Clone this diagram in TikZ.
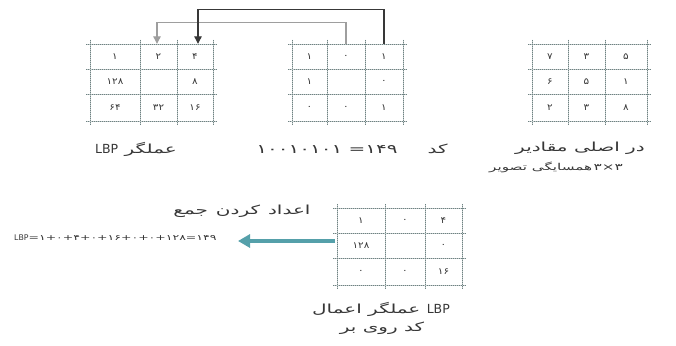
\documentclass[tikz,border=0pt]{standalone}
\usepackage{fontspec}
\setmainfont{DejaVu Sans}
\newfontfamily\fa[Script=Arabic,FakeStretch=1.6]{DejaVu Sans}
\newfontfamily\fac[Script=Arabic,FakeStretch=1.15]{DejaVu Sans}
\usetikzlibrary{arrows.meta}
\definecolor{gridc}{RGB}{110,130,130}
\definecolor{txt}{RGB}{55,55,55}
\definecolor{tealc}{RGB}{85,160,170}
% each word in its own box, boxes set left to right as the picture shows them
\newcommand\w[1]{\hbox{#1}}
\newcommand\lbp{\hbox{\normalfont LBP}}
\tikzset{
 gline/.style={draw=gridc!45, line width=0.5pt},
 gdot/.style={draw=gridc, line width=0.7pt, dash pattern=on 0.8pt off 1.2pt},
 cell/.style={inner sep=0pt, minimum width=30pt, minimum height=25pt, text=txt, font=\fac\fontsize{9}{10}\selectfont},
 lab/.style={inner sep=0pt, text=txt, font=\fa\fontsize{12.5}{14}\selectfont},
 formula/.style={inner sep=0pt, text=txt, font=\fa\fontsize{7.8}{9}\selectfont},
 darkarr/.style={draw=black!78, line width=1.1pt, -{Triangle[width=7.5pt,length=7.5pt]}},
 grayarr/.style={draw=black!38, line width=1.1pt, -{Triangle[width=7.5pt,length=7.5pt]}},
 bigarr/.style={draw=tealc, line width=3.5pt, -{Triangle[width=13pt,length=12pt]}},
}
\newcommand\mygrid[8]{%
 \foreach \yy in {#5,#6,#7,#8}{\draw[gline] (#1-4,\yy) -- (#4+4,\yy); \draw[gdot] (#1-4,\yy) -- (#4+4,\yy);}
 \foreach \xx in {#1,#2,#3,#4}{\draw[gline] (\xx,#5-4) -- (\xx,#8+4); \draw[gdot] (\xx,#5-4) -- (\xx,#8+4);}
}
\begin{document}
\begin{tikzpicture}[x=1pt,y=-1pt]
\fill[white] (0,0) rectangle (676,345);
\useasboundingbox (0,0) rectangle (676,345);

% grids
\mygrid{90}{140}{177}{213}{44}{69}{94}{121}
\mygrid{292}{327}{365}{403}{44}{69}{94}{121}
\mygrid{532}{568}{605}{647}{44}{69}{94}{121}
\mygrid{337}{385}{425}{462}{208}{233}{258}{285}

% left matrix: weights
\node[cell] (L11) at (115,56.5) {۱};
\node[cell] (L12) at (158.5,56.5) {۲};
\node[cell] (L13) at (195,56.5) {۴};
\node[cell] (L21) at (115,81.5) {۱۲۸};
\node[cell] (L23) at (195,81.5) {۸};
\node[cell] (L31) at (115,107.5) {۶۴};
\node[cell] (L32) at (158.5,107.5) {۳۲};
\node[cell] (L33) at (195,107.5) {۱۶};

% middle matrix: thresholded
\node[cell] (M11) at (309.5,56.5) {۱};
\node[cell] (M12) at (346,56.5) {۰};
\node[cell] (M13) at (384,56.5) {۱};
\node[cell] (M21) at (309.5,81.5) {۱};
\node[cell] (M23) at (384,81.5) {۰};
\node[cell] (M31) at (309.5,107.5) {۰};
\node[cell] (M32) at (346,107.5) {۰};
\node[cell] (M33) at (384,107.5) {۱};

% right matrix: original values
\node[cell] (R11) at (550,56.5) {۷};
\node[cell] (R12) at (586.5,56.5) {۳};
\node[cell] (R13) at (626,56.5) {۵};
\node[cell] (R21) at (550,81.5) {۶};
\node[cell] (R22) at (586.5,81.5) {۵};
\node[cell] (R23) at (626,81.5) {۱};
\node[cell] (R31) at (550,107.5) {۲};
\node[cell] (R32) at (586.5,107.5) {۳};
\node[cell] (R33) at (626,107.5) {۸};

% bottom matrix: applied
\node[cell] (B11) at (361,220.5) {۱};
\node[cell] (B12) at (405,220.5) {۰};
\node[cell] (B13) at (443.5,220.5) {۴};
\node[cell] (B21) at (361,245.5) {۱۲۸};
\node[cell] (B23) at (443.5,245.5) {۰};
\node[cell] (B31) at (361,271.5) {۰};
\node[cell] (B32) at (405,271.5) {۰};
\node[cell] (B33) at (443.5,271.5) {۱۶};

% top connectors
\draw[grayarr] (M12.north) -- ++(0,-21) -| ([xshift=-1.5pt]L12.north);
\draw[darkarr] (M13.north) -- ++(0,-34) -| ([xshift=3pt]L13.north);

% labels (word boxes in the left-to-right order of the picture)
\node[lab] (labL) at (136,149) {\lbp\ \w{عملگر}};
\node[lab] (labM) at (352,149) {\w{۱۰۰۱۰۱۰۱}\ \w{=}\w{۱۴۹}\hspace{30pt}\w{کد}};
\node[lab] (labR1) at (580,148) {\w{مقادیر}\ \w{اصلی}\ \w{در}};
\node[lab, font=\fa\fontsize{9.5}{11}\selectfont] (labR2) at (556,167) {\w{تصویر}\ \w{همسایگی}\,\w{۳×۳}};

% bottom part
\coordinate (bt) at (335,241);
\coordinate (bh) at (238,241);
\draw[bigarr] (bt) -- (bh);
\node[lab] (labSum) at (242,211) {\w{جمع}\hspace{8pt}\w{کردن}\hspace{8pt}\w{اعداد}};
\node[formula, anchor=west] (sum) at (14,238) {\lbp\w{=}\w{۱}\w{+}\w{۰}\w{+}\w{۴}\w{+}\w{۰}\w{+}\w{۱۶}\w{+}\w{۰}\w{+}\w{۰}\w{+}\w{۱۲۸}\w{=}\w{۱۴۹}};
\node[lab] (labB1) at (381,309) {\w{اعمال}\ \w{عملگر}\ \lbp};
\node[lab] (labB2) at (382,328) {\w{بر}\ \w{روی}\ \w{کد}};
\end{tikzpicture}
\end{document}
